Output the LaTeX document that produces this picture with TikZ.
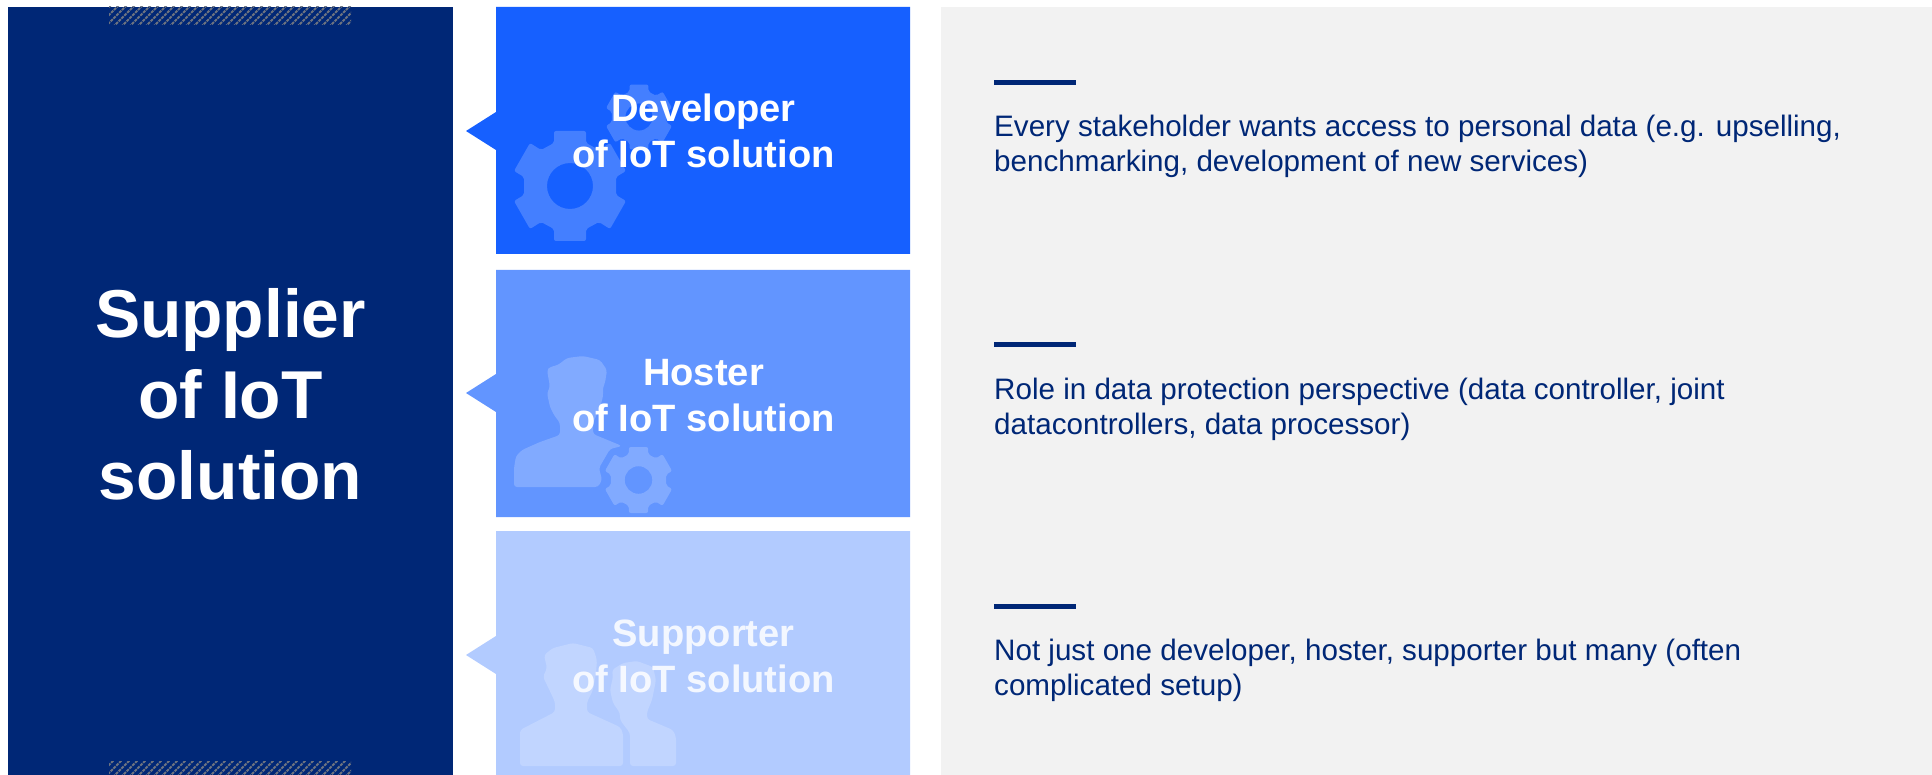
\documentclass[tikz,border=0pt]{standalone}
\usepackage{fontspec}
\setmainfont{Liberation Sans}
\definecolor{navy}{HTML}{002776}
\definecolor{blueA}{HTML}{1660FF}
\definecolor{blueB}{HTML}{6295FF}
\definecolor{blueC}{HTML}{B2CBFF}
\definecolor{panel}{HTML}{F2F2F2}
\definecolor{hatch}{HTML}{6E7480}
\newcommand{\gearshape}[3]{% cx, cy, scale: outer radius about 56 at scale 1
  \begin{scope}[shift={(#1,#2)},scale=#3]
    \fill[iconfill,even odd rule]
      (-16,-55) [rounded corners=2pt] -- (16,-55) -- (16,-43) -- (29,-36) -- (40,-43) -- (56,-15) -- (46,-9) -- (46,9) -- (56,15) -- (40,43) -- (29,36) -- (16,43) -- (16,55) -- (-16,55) -- (-16,43) -- (-29,36) -- (-40,43) -- (-56,15) -- (-46,9) -- (-46,-9) -- (-56,-15) -- (-40,-43) -- (-29,-36) -- (-16,-43) -- cycle
      [sharp corners] (0,0) circle[radius=23];
  \end{scope}}
\tikzset{
  iconfill/.style={fill=white,fill opacity=.2},
  roletext/.style={text=white,font=\bfseries\fontsize{38.1}{46}\selectfont,align=center,anchor=base,inner sep=0pt},
  bodytext/.style={text=navy,font=\fontsize{29.6}{35}\selectfont,align=left,anchor=base west,inner sep=0pt},
  bar/.style={fill=navy}
}
\begin{document}
\begin{tikzpicture}[x=1pt,y=-1pt]
\useasboundingbox (0,0) rectangle (1932,775);
\fill[white] (0,0) rectangle (1932,775);
% left panel
\fill[navy] (8,7) rectangle (453,775);
\begin{scope}
  \clip (109,7) rectangle (351,25);
  \foreach \i in {0,8,...,270} \draw[hatch,line width=2pt,dash pattern=on 3pt off 1pt] (109+\i-20,27)--(109+\i+4,3);
\end{scope}
\begin{scope}
  \clip (109,761) rectangle (351,775);
  \foreach \i in {0,8,...,270} \draw[hatch,line width=2pt,dash pattern=on 3pt off 1pt] (109+\i-20,777)--(109+\i+4,753);
\end{scope}
\node[text=white,font=\bfseries\fontsize{67.7}{81.2}\selectfont,align=center,anchor=base,inner sep=0pt] (title) at (230.5,499.5) {Supplier\\of IoT\\solution};
% grey panel
\fill[panel] (941,7) rectangle (1932,775);
% role boxes
\fill[blueA] (496,7) -- (910,7) -- (910,254) -- (496,254) -- (496,150) -- (466,131) -- (496,112) -- cycle;
\fill[blueB] (496,270) -- (910,270) -- (910,517) -- (496,517) -- (496,412) -- (466,393) -- (496,374) -- cycle;
\fill[blueC] (496,531) -- (910,531) -- (910,775) -- (496,775) -- (496,674) -- (466,655) -- (496,636) -- cycle;
% icons
\gearshape{570}{186}{1}
\gearshape{639}{117}{.59}
\gearshape{638.5}{480}{.6}
% hoster person
\fill[iconfill,rounded corners=3pt] (514,487) -- (514,468) -- (516,456) -- (522,450) -- (540,442) -- (560,435) -- (560,423) -- (554,415) -- (550,407) -- (547,393) -- (550,387) -- (547,370) -- (550,367) -- (558,365) -- (567,358) -- (583,356) -- (600,360) -- (607,370) -- (605,383) -- (603,387) -- (603,397) -- (600,407) -- (593,423) -- (593,434) -- (622,446) -- (610,449) -- (599,468) -- (602,480) -- (598,487) -- cycle;
% supporter people
\fill[iconfill,rounded corners=3pt] (520,766) -- (520,730) -- (555,712) -- (555,702) -- (548,687) -- (543,677) -- (547,668) -- (544,655) -- (553,648) -- (573,643) -- (593,648) -- (597,660) -- (596,673) -- (593,690) -- (587,702) -- (587,712) -- (620,727) -- (623,733) -- (623,766) -- cycle;
\fill[iconfill,rounded corners=3pt] (630,766) -- (630,733) -- (620,720) -- (620,713) -- (613,703) -- (610,690) -- (613,677) -- (612,670) -- (623,663) -- (637,661) -- (653,667) -- (656,680) -- (652,700) -- (647,712) -- (647,719) -- (673,730) -- (676,737) -- (676,766) -- cycle;
% role labels
\node[roletext] (dev) at (703.5,168) {Developer\\of IoT solution};
\node[roletext] (host) at (703.5,431) {Hoster\\of IoT solution};
\node[roletext,text opacity=.85] (supp) at (703.5,692.5) {Supporter\\of IoT solution};
% bars and body text
\fill[bar] (994,80) rectangle (1076,85);
\fill[bar] (994,342) rectangle (1076,347);
\fill[bar] (994,604) rectangle (1076,609);
\node[bodytext] (t1) at (994,171.7) {Every stakeholder wants access to personal data (e.g. upselling,\\benchmarking, development of new services)};
\node[bodytext] (t2) at (994,434) {Role in data protection perspective (data controller, joint\\datacontrollers, data processor)};
\node[bodytext] (t3) at (994,695.7) {Not just one developer, hoster, supporter but many (often\\complicated setup)};
\end{tikzpicture}
\end{document}
